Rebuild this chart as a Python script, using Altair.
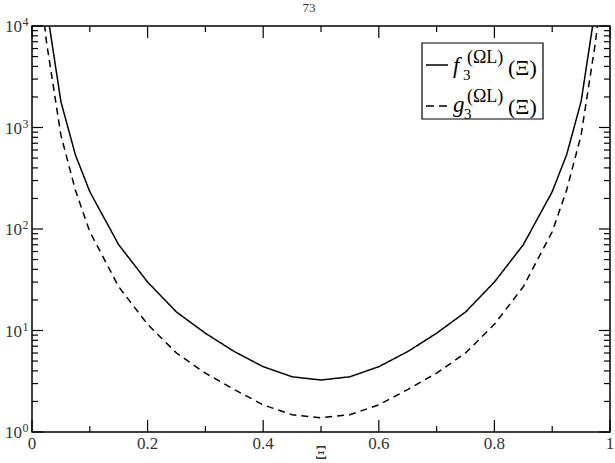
import altair as alt
import pandas as pd

# ---- data ----
xi = [0.01, 0.025, 0.05, 0.075, 0.1, 0.15, 0.2, 0.25, 0.3, 0.35, 0.4, 0.45, 0.5,
      0.55, 0.6, 0.65, 0.7, 0.75, 0.8, 0.85, 0.9, 0.925, 0.95, 0.975, 0.99]
f3 = [1.0e5, 15500, 1800, 540, 233, 70, 30, 15.2, 9.4, 6.2, 4.4, 3.5, 3.25,
      3.5, 4.4, 6.2, 9.4, 15.2, 30, 70, 233, 540, 1800, 15500, 1.0e5]
g3 = [4.0e4, 7000, 840, 242, 94, 27, 11.5, 6.0, 3.8, 2.62, 1.85, 1.48, 1.38,
      1.48, 1.85, 2.62, 3.8, 6.0, 11.5, 27, 94, 242, 840, 7000, 4.0e4]

x_major = [0, 0.2, 0.4, 0.6, 0.8, 1.0]
x_labels = ["0", "0.2", "0.4", "0.6", "0.8", "1"]
x_minor = [0.1, 0.3, 0.5, 0.7, 0.9]
y_major = [1, 10, 100, 1000, 10000]
y_exp = ["0", "1", "2", "3", "4"]
y_minor = [m * 10 ** k for k in range(4) for m in range(2, 10)]

W, H = 578, 406
FONT = "'Liberation Serif', 'DejaVu Serif', serif"
LABEL_COLOR = "#333333"

df = pd.DataFrame({
    "xi": xi + xi,
    "val": f3 + g3,
    "series": ["f"] * len(xi) + ["g"] * len(xi),
})

xscale = alt.Scale(domain=[0, 1], nice=False, zero=False)
yscale = alt.Scale(type="log", domain=[1, 10000], nice=False)

lines = alt.Chart(df).mark_line(clip=True, color="black", strokeWidth=1.5).encode(
    x=alt.X("xi:Q", scale=xscale, axis=None),
    y=alt.Y("val:Q", scale=yscale, axis=None),
    strokeDash=alt.StrokeDash("series:N",
                              scale=alt.Scale(domain=["f", "g"], range=[[1, 0], [7, 5]]),
                              legend=None),
)

# ---- inward ticks ----
def xticks(vals, length):
    d = pd.DataFrame({"v": vals})
    bot = alt.Chart(d).mark_rule(color="black", strokeWidth=1.2).encode(
        x=alt.X("v:Q", scale=xscale, axis=None), y=alt.value(H), y2=alt.value(H - length))
    top = alt.Chart(d).mark_rule(color="black", strokeWidth=1.2).encode(
        x=alt.X("v:Q", scale=xscale, axis=None), y=alt.value(0), y2=alt.value(length))
    return [bot, top]

def yticks(vals, length):
    d = pd.DataFrame({"v": vals})
    left = alt.Chart(d).mark_rule(color="black", strokeWidth=1.2).encode(
        y=alt.Y("v:Q", scale=yscale, axis=None), x=alt.value(0), x2=alt.value(length))
    right = alt.Chart(d).mark_rule(color="black", strokeWidth=1.2).encode(
        y=alt.Y("v:Q", scale=yscale, axis=None), x=alt.value(W), x2=alt.value(W - length))
    return [left, right]

ticks = xticks(x_major, 12) + xticks(x_minor, 6) + yticks(y_major, 11) + yticks(y_minor, 6)

# ---- x labels ----
xlab = alt.Chart(pd.DataFrame({"v": x_major, "t": x_labels})).mark_text(
    align="center", baseline="alphabetic", font=FONT, fontSize=17, color=LABEL_COLOR
).encode(x=alt.X("v:Q", scale=xscale, axis=None), y=alt.value(H + 17), text="t:N")

# ---- y labels 10^k ----
ylab_df = pd.DataFrame({"v": y_major, "e": y_exp})
ybase = alt.Chart(ylab_df).mark_text(
    text="10", align="right", baseline="alphabetic", dy=6, font=FONT, fontSize=17,
    color=LABEL_COLOR).encode(y=alt.Y("v:Q", scale=yscale, axis=None), x=alt.value(-10))
yexp = alt.Chart(ylab_df).mark_text(
    align="left", baseline="alphabetic", dy=0, font=FONT, fontSize=12,
    color=LABEL_COLOR).encode(y=alt.Y("v:Q", scale=yscale, axis=None), x=alt.value(-9.5),
                              text="e:N")

one = alt.Data(values=[{"a": 0}])

def txt(s, x, y, size, style="normal", color="black", align="left"):
    return alt.Chart(one).mark_text(
        text=s, align=align, baseline="alphabetic", font=FONT, fontSize=size,
        fontStyle=style, color=color).encode(x=alt.value(x), y=alt.value(y))

# ---- page number and x title ----
page = txt("73", 277, -14, 13, align="center", color=LABEL_COLOR)
xtitle = txt("Ξ", 289, 433, 19, align="center", color=LABEL_COLOR)

# ---- legend ----
box = alt.Chart(one).mark_rect(fill="white", stroke="black", strokeWidth=1.2).encode(
    x=alt.value(390), x2=alt.value(511), y=alt.value(17), y2=alt.value(93))
leg_solid = alt.Chart(one).mark_rule(color="black", strokeWidth=1.5).encode(
    x=alt.value(394), x2=alt.value(416), y=alt.value(39))
leg_dash = alt.Chart(one).mark_rule(color="black", strokeWidth=1.5, strokeDash=[8, 5]).encode(
    x=alt.value(394), x2=alt.value(416), y=alt.value(80))
leg_text = [
    txt("f", 421, 47, 23, "italic"),
    txt("3", 431, 54, 15),
    txt("(ΩL)", 435, 37, 18),
    txt("(Ξ)", 476, 49, 22),
    txt("g", 421, 86, 23, "italic"),
    txt("3", 432, 93, 15),
    txt("(ΩL)", 435, 76, 18),
    txt("(Ξ)", 476, 88, 22),
]

chart = alt.layer(
    lines, *ticks, xlab, ybase, yexp, page, xtitle, box, leg_solid, leg_dash, *leg_text
).properties(
    width=W, height=H,
    autosize=alt.AutoSizeParams(type="none"),
    padding={"left": 32, "top": 26, "right": 5, "bottom": 31},
    background="white",
).configure_view(stroke="black", strokeWidth=1.5)

chart.save("out.html", embed_options={"renderer": "svg", "actions": False})
